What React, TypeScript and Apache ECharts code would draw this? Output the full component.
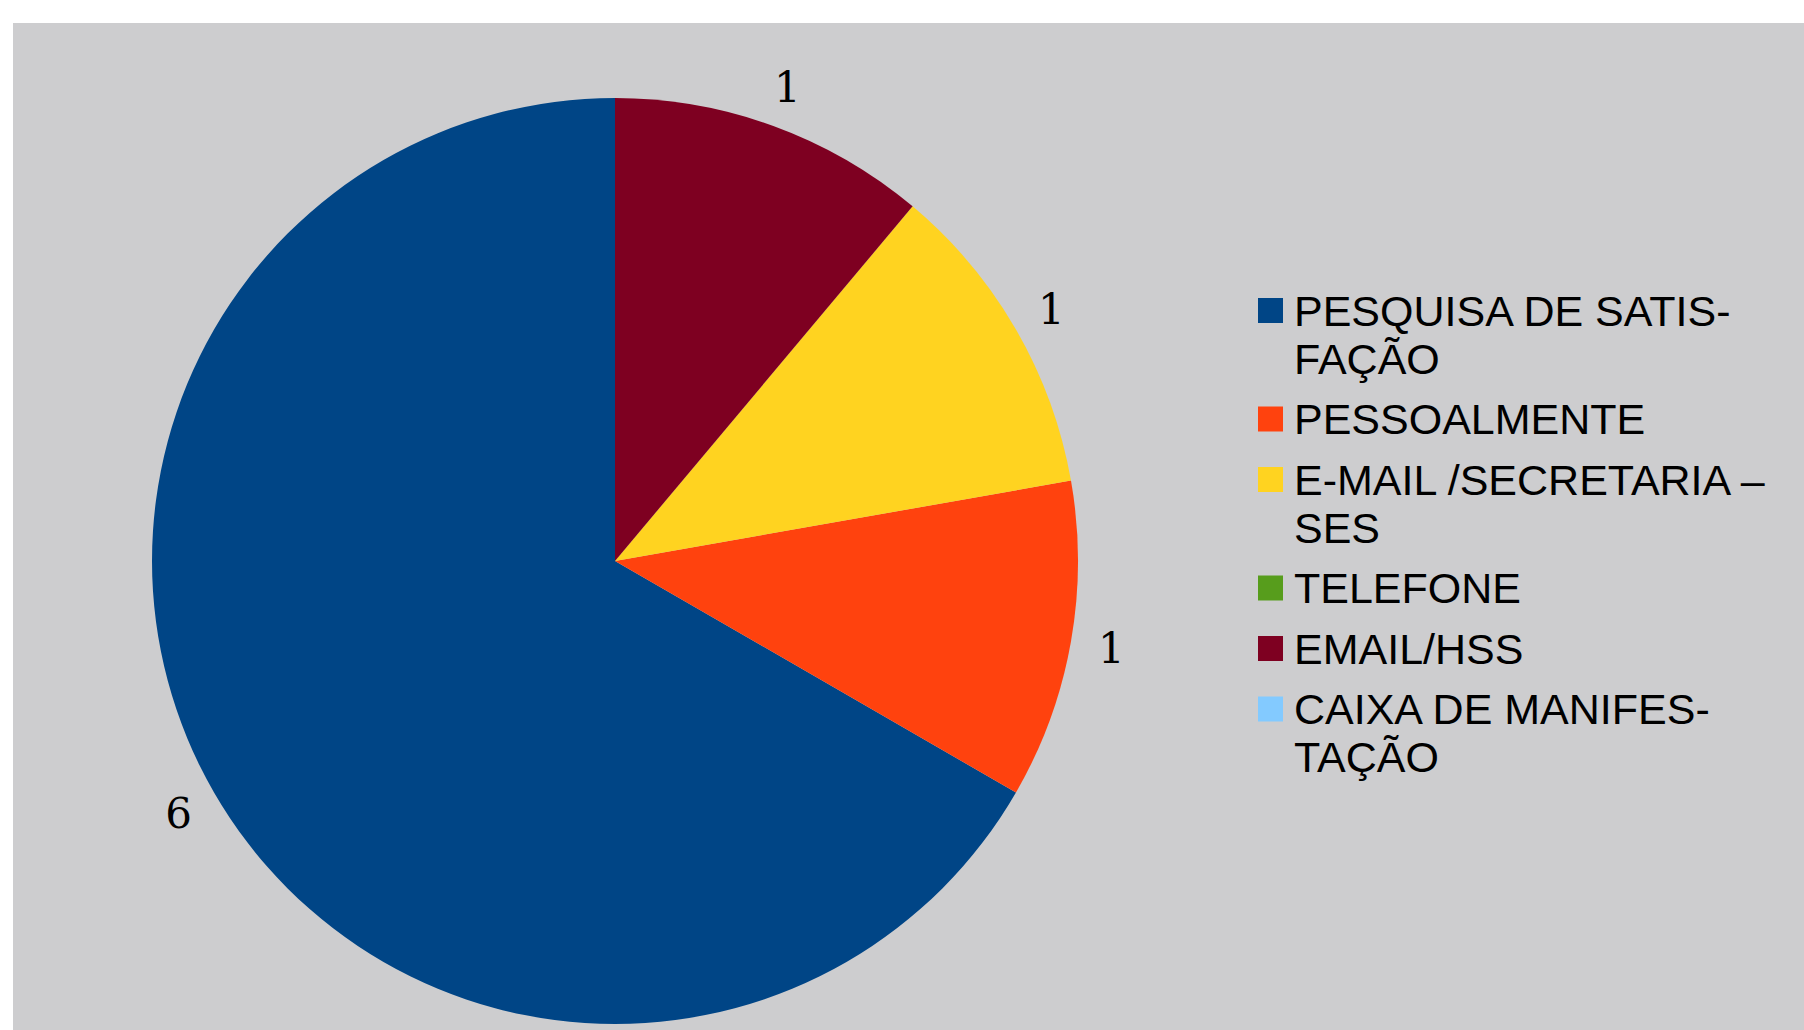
import React, { useEffect, useRef } from "react";
import * as echarts from "echarts";

const categories = [
  "PESQUISA DE SATISFAÇÃO",
  "PESSOALMENTE",
  "E-MAIL /SECRETARIA – SES",
  "TELEFONE",
  "EMAIL/HSS",
  "CAIXA DE MANIFESTAÇÃO",
];
const legendTexts = [
  "PESQUISA DE SATIS-\nFAÇÃO",
  "PESSOALMENTE",
  "E-MAIL /SECRETARIA –\nSES",
  "TELEFONE",
  "EMAIL/HSS",
  "CAIXA DE MANIFES-\nTAÇÃO",
];
const values = [6, 1, 1, 0, 1, 0];
const colors = ["#004586", "#ff420e", "#ffd320", "#579d1c", "#7e0021", "#83caff"];

export default function App() {
  const ref = useRef<HTMLDivElement>(null);
  useEffect(() => {
    if (!ref.current) return;
    const chart = echarts.init(ref.current, undefined, { renderer: "svg" });
    const data = categories.map((name, i) => ({ name, value: values[i] }));
    const lineH = 48;
    const gap = 12.5;
    const firstCenter = 310.5;
    const richStyle = {
      fontFamily: "Liberation Sans",
      fontSize: 43,
      color: "#000",
      lineHeight: lineH,
    };
    // one legend block per entry so the square lines up with the first text line
    const legends: any[] = [];
    let blockTop = firstCenter - lineH / 2;
    categories.forEach((name, i) => {
      const lines = legendTexts[i].split("\n");
      const extra = (lines.length - 1) * lineH;
      legends.push({
        orient: "vertical",
        left: 1258,
        top: blockTop - extra,
        padding: 0,
        itemWidth: 25,
        itemHeight: 25,
        icon: "rect",
        selectedMode: false,
        formatter: () => lines.map((l) => `{t|${l}}`).join("\n"),
        textStyle: {
          ...richStyle,
          padding: [extra, 0, 0, 6],
          rich: { t: richStyle },
        },
        data: [name],
      });
      blockTop += lines.length * lineH + gap;
    });
    chart.setOption({
      animation: false,
      color: colors,
      graphic: [
        {
          type: "rect",
          z: -10,
          silent: true,
          shape: { x: 13, y: 23, width: 1804 - 13, height: 1030 - 23 },
          style: { fill: "#cdcdcf" },
        },
      ],
      legend: legends,
      series: [
        {
          type: "pie",
          center: [615, 561],
          radius: [0, 463],
          startAngle: 90,
          clockwise: false,
          silent: true,
          label: { show: false },
          labelLine: { show: false },
          emphasis: { disabled: true },
          itemStyle: { borderWidth: 0 },
          data,
        },
        {
          type: "pie",
          center: [615, 561],
          radius: [470, 532],
          startAngle: 90,
          clockwise: false,
          silent: true,
          legendHoverLink: false,
          emphasis: { disabled: true },
          itemStyle: { color: "transparent", borderWidth: 0 },
          label: {
            show: true,
            position: "inside",
            color: "#000",
            fontFamily: "DejaVu Serif",
            fontSize: 42,
            formatter: (p: any) => (p.value === 0 ? "" : String(p.value)),
          },
          labelLine: { show: false },
          data,
        },
      ],
    });
    return () => chart.dispose();
  }, []);
  return (
    <div style={{ position: "fixed", left: 0, top: 0, width: 1804, height: 1030, background: "#fff" }}>
      <div ref={ref} style={{ width: 1804, height: 1030 }} />
    </div>
  );
}
